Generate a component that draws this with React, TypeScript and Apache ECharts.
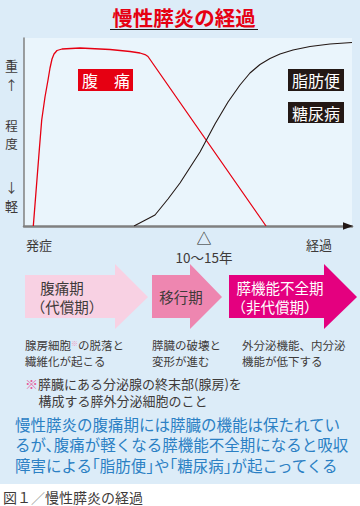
import React, { useEffect, useRef } from "react";
import * as echarts from "echarts";

const FONT = '"Noto Sans CJK JP", "Noto Sans CJK SC", sans-serif';

// 腹痛 curve (x: 経過 0-100, y: 程度 0-100)
const painX = [2.84, 4.66, 5.4, 6.4, 7.32, 7.93, 8.54, 9.15, 10.06, 11.59, 17.07, 26.22, 32.32, 35.37, 36.89, 37.8, 73.78];
const painY = [0, 40.43, 56.38, 68.62, 77.66, 84.04, 88.83, 91.49, 93.35, 94.15, 94.68, 93.88, 92.82, 92.02, 91.22, 90.16, 0];
// 脂肪便・糖尿病 curve
const steaX = [33.54, 39.94, 43.9, 47.56, 53.66, 58.23, 62.2, 65.85, 68.9, 71.95, 75.0, 78.05, 82.01, 87.2, 93.29, 100];
const steaY = [0, 5.85, 14.36, 22.87, 39.36, 54.26, 65.96, 75.0, 81.38, 85.9, 89.1, 91.49, 93.62, 95.48, 96.81, 97.61];

const title = "慢性膵炎の経過";
const yLabels = ["重", "↑", "程", "度", "↓", "軽"];
const curveLabels = ["腹　痛", "脂肪便", "糖尿病"];
const xLabels = ["発症", "10～15年", "経過"];
const phases = [["腹痛期", "（代償期）"], ["移行期"], ["膵機能不全期", "（非代償期）"]];
const descs = [["腺房細胞", "の脱落と", "繊維化が起こる"], ["膵臓の破壊と", "変形が進む"], ["外分泌機能、内分泌", "機能が低下する"]];
const note = ["膵臓にある分泌腺の終末部(腺房)を", "構成する膵外分泌細胞のこと"];
const summary = [
  "慢性膵炎の腹痛期には膵臓の機能は保たれてい",
  "るが､腹痛が軽くなる膵機能不全期になると吸収",
  "障害による｢脂肪便｣や｢糖尿病｣が起こってくる",
];
const caption = ["図１", "／", "慢性膵炎の経過"];

const TXT = "#3e3a39";

function t(text: string, x: number, y: number, size: number, fill: string, align = "left", weight: any = "normal", extra: any = {}) {
  return {
    type: "text",
    x,
    y,
    z: 50,
    style: {
      text,
      fontSize: size,
      fontFamily: FONT,
      fontWeight: weight,
      fill,
      align,
      textAlign: align,
      verticalAlign: "middle",
      textVerticalAlign: "middle",
      ...extra,
    },
  };
}

function arrow(x0: number, x1: number, tip: number, fill: string) {
  return {
    type: "polygon",
    z: 5,
    shape: {
      points: [
        [x0, 275], [x1, 275], [x1, 264], [tip, 297], [x1, 329], [x1, 318], [x0, 318],
      ],
    },
    style: { fill },
  };
}

export default function App() {
  const ref = useRef<HTMLDivElement>(null);
  useEffect(() => {
    if (!ref.current) return;
    const chart = echarts.init(ref.current, null, { renderer: "svg" });
    const F = 15.5;
    const BLUE = "#2b80c4";
    const graphic: any[] = [
      { type: "rect", z: 1, shape: { x: 0, y: 484, width: 360, height: 22 }, style: { fill: "#ffffff" } },
      // title
      t(title, 184, 17, 20.5, "#e60012", "center", "bold"),
      { type: "line", z: 50, shape: { x1: 110, y1: 29.5, x2: 258, y2: 29.5 }, style: { stroke: "#231815", lineWidth: 1 } },
      // y labels
      t(yLabels[0], 11.5, 65, 13, TXT, "center"),
      t(yLabels[1], 11.5, 84, 13, TXT, "center"),
      t(yLabels[2], 11.5, 125.5, 12.5, TXT, "center"),
      t(yLabels[3], 11.5, 143, 12.5, TXT, "center"),
      t(yLabels[4], 11.5, 186, 13, TXT, "center"),
      t(yLabels[5], 11.5, 205, 13, TXT, "center"),
      // x axis arrow head
      { type: "polygon", z: 50, shape: { points: [[343, 222.3], [353, 226], [343, 229.7]] }, style: { fill: "#231815" } },
      // curve label boxes
      { type: "rect", z: 40, shape: { x: 78, y: 69, width: 55, height: 22 }, style: { fill: "#e60012" } },
      t(curveLabels[0], 106, 80, 16, "#ffffff", "center"),
      { type: "rect", z: 40, shape: { x: 288, y: 69, width: 56, height: 22 }, style: { fill: "#231815" } },
      t(curveLabels[1], 316, 80, 16, "#ffffff", "center"),
      { type: "rect", z: 40, shape: { x: 288, y: 102, width: 56, height: 21 }, style: { fill: "#231815" } },
      t(curveLabels[2], 316, 112.5, 16, "#ffffff", "center"),
      // x labels
      t(xLabels[0], 39, 244, 13, TXT, "center"),
      t("△", 204, 237.5, 15, "#231815", "center"),
      t(xLabels[1], 204, 257, 13.5, TXT, "center"),
      t(xLabels[2], 319, 244, 13, TXT, "center"),
      // phase arrows
      arrow(25, 115, 148, "#f8d1e3"),
      arrow(152, 190, 222, "#ee86b0"),
      arrow(229, 324, 357, "#e4007f"),
      t(phases[0][0], 62, 287, 14.5, TXT, "center"),
      t(phases[0][1], 67, 306.5, 14.5, TXT, "center"),
      t(phases[1][0], 181, 296, 14.5, TXT, "center"),
      t(phases[2][0], 280, 287, 14.5, "#ffffff", "center"),
      t(phases[2][1], 275, 306.5, 14.5, "#ffffff", "center"),
      // descriptions
      {
        type: "text",
        x: 25,
        y: 345,
        z: 50,
        style: {
          text: `{a|${descs[0][0]}}{s|※}{a|${descs[0][1]}}`,
          verticalAlign: "middle",
          textVerticalAlign: "middle",
          rich: {
            a: { fontSize: 11.5, fontFamily: FONT, fill: TXT },
            s: { fontSize: 7, fontFamily: FONT, fill: "#f09ac0", verticalAlign: "top" },
          },
        },
      },
      t(descs[0][2], 25, 361, 11.5, TXT),
      t(descs[1][0], 152, 345, 11.5, TXT),
      t(descs[1][1], 152, 361, 11.5, TXT),
      t(descs[2][0], 242, 345, 11.5, TXT),
      t(descs[2][1], 242, 361, 11.5, TXT),
      // note
      {
        type: "text",
        x: 25,
        y: 383,
        z: 50,
        style: {
          text: `{p|※}{a|${note[0]}}`,
          verticalAlign: "middle",
          textVerticalAlign: "middle",
          rich: {
            p: { fontSize: 13, fontFamily: FONT, fill: "#e65a9a" },
            a: { fontSize: 13, fontFamily: FONT, fill: TXT },
          },
        },
      },
      t(note[1], 38.5, 400.5, 13, TXT),
      // blue summary
      t(summary[0], 15, 423.5, F, BLUE),
      t(summary[1], 15, 444, F, BLUE),
      t(summary[2], 15, 464.5, F, BLUE),
      // caption
      {
        type: "text",
        x: 3,
        y: 497,
        z: 50,
        style: {
          text: `{a|${caption[0]}}{g|${caption[1]}}{a|${caption[2]}}`,
          verticalAlign: "middle",
          textVerticalAlign: "middle",
          rich: {
            a: { fontSize: 14, fontFamily: FONT, fill: TXT },
            g: { fontSize: 14, fontFamily: FONT, fill: "#a0a0a0" },
          },
        },
      },
    ];

    chart.setOption({
      animation: false,
      backgroundColor: "#dcecf8",
      grid: {
        left: 24,
        top: 38,
        width: 328,
        height: 188,
        show: true,
        backgroundColor: "#eaf5fc",
        borderWidth: 0,
        containLabel: false,
      },
      xAxis: {
        type: "value",
        min: 0,
        max: 100,
        axisLine: { show: true, lineStyle: { color: "#808080", width: 2.5 } },
        axisTick: { show: false },
        axisLabel: { show: false },
        splitLine: { show: false },
      },
      yAxis: {
        type: "value",
        min: 0,
        max: 100,
        axisLine: { show: true, lineStyle: { color: "#808080", width: 1.5 } },
        axisTick: { show: false },
        axisLabel: { show: false },
        splitLine: { show: false },
      },
      series: [
        {
          name: "腹痛",
          type: "line",
          data: painX.map((x, i) => [x, painY[i]]),
          showSymbol: false,
          symbol: "none",
          smooth: false,
          lineStyle: { color: "#e60012", width: 1.3 },
          z: 3,
        },
        {
          name: "脂肪便・糖尿病",
          type: "line",
          data: steaX.map((x, i) => [x, steaY[i]]),
          showSymbol: false,
          symbol: "none",
          smooth: false,
          lineStyle: { color: "#231815", width: 1.1 },
          z: 3,
        },
      ],
      graphic,
    });
    return () => chart.dispose();
  }, []);
  return <div ref={ref} style={{ position: "fixed", left: 0, top: 0, width: 360, height: 506 }} />;
}
